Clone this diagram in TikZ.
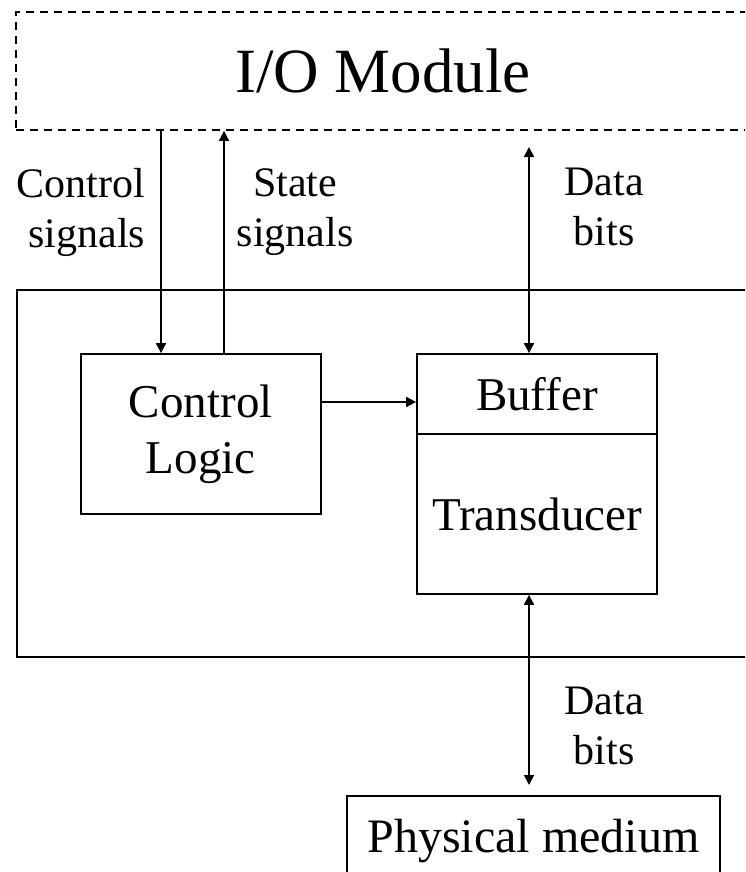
\documentclass[tikz,border=0pt]{standalone}
\usepackage{fontspec}
\setmainfont{Liberation Serif}
\usetikzlibrary{arrows.meta}

\begin{document}
\begin{tikzpicture}[x=1pt, y=-1pt, line width=1.8pt,
  every node/.style={inner sep=0pt, font=\fontsize{47}{56}\selectfont},
  blk/.style={draw, rectangle, align=center},
  lbl/.style={align=center, font=\fontsize{42}{50}\selectfont},
  sig/.style={-{Triangle[length=10pt, width=10pt]}},
  bisig/.style={{Triangle[length=10pt, width=10pt]}-{Triangle[length=10pt, width=10pt]}}]

\path[use as bounding box, clip] (0,0) rectangle (745,872);

%% I/O module, open to the right
\node[blk, dash pattern=on 8pt off 6pt, minimum width=734pt, minimum height=118pt,
      font=\fontsize{63}{70}\selectfont] (io) at (383,71) {I/O Module};

%% Device boundary
\node[blk, minimum width=743pt, minimum height=367pt] (dev) at (388.5,473.5) {};

%% Inner blocks
\node[blk, minimum width=240pt, minimum height=160pt] (ctrl) at (200.75,434)
  {Control\\Logic};
\node[blk, minimum width=240pt, minimum height=80pt]  (buf)   at (537,394) {Buffer};
\node[blk, minimum width=240pt, minimum height=160pt] (trans) at (537,514) {Transducer};

%% Physical medium, cut off at the bottom
\node[blk, anchor=north, minimum width=373pt, text height=57pt, text depth=40pt,
      font=\fontsize{48}{56}\selectfont] (phys) at (533.5,795) {Physical medium};

%% Labels
\node[lbl, align=right, anchor=east] (csig) at (146,212) {Control\\signals};
\node[lbl] (ssig) at (295,212) {State\\signals};
\node[lbl] (dtop) at (604,207) {Data\\bits};
\node[lbl] (dbot) at (604,726) {Data\\bits};

%% Connectors
\coordinate (cx) at (161,0);
\coordinate (sx) at (224,0);
\coordinate (dx) at (529,0);
\coordinate (ay) at (0,402);
\coordinate (dtip) at (529,147);
\coordinate (dend) at (529,785);

\draw[sig] (io.south -| cx) -- (ctrl.north -| cx);
\draw[sig] (ctrl.north -| sx) -- (io.south -| sx);
\draw[bisig] (buf.north -| dx) -- (dtip);
\draw[sig] (ctrl.east |- ay) -- (buf.west |- ay);
\draw[bisig] (trans.south -| dx) -- (dend);

\end{tikzpicture}
\end{document}
